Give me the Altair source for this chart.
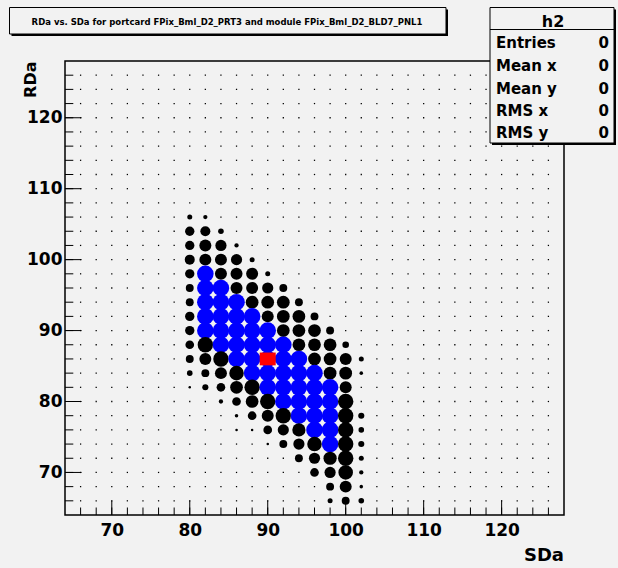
import altair as alt
import pandas as pd

# ---------------- data ----------------
x_cols = [78, 80, 82, 84, 86, 88, 90, 92, 94, 96, 98, 100, 102, 104]
y_rows = [106, 104, 102, 100, 98, 96, 94, 92, 90, 88, 86, 84, 82, 80, 78, 76, 74, 72, 70, 68, 66]
counts = [
    [0, 4, 3, 0, 0, 0, 0, 0, 0, 0, 0, 0, 0, 0],        # 106
    [0, 14, 16, 5, 0, 0, 0, 0, 0, 0, 0, 0, 0, 0],      # 104
    [0, 14, 23, 20, 3, 0, 0, 0, 0, 0, 0, 0, 0, 0],     # 102
    [0, 16, 23, 23, 20, 4, 0, 0, 0, 0, 0, 0, 0, 0],    # 100
    [0, 14, 44, 23, 23, 23, 4, 0, 0, 0, 0, 0, 0, 0],   # 98
    [0, 10, 44, 44, 23, 23, 20, 10, 0, 0, 0, 0, 0, 0], # 96
    [0, 10, 44, 44, 44, 26, 26, 26, 10, 0, 0, 0, 0, 0],   # 94
    [0, 14, 44, 44, 44, 44, 23, 26, 26, 10, 0, 0, 0, 0],  # 92
    [0, 14, 44, 44, 44, 44, 44, 26, 26, 26, 10, 0, 0, 0], # 90
    [0, 12, 38, 44, 44, 44, 44, 44, 26, 26, 26, 7, 0, 0], # 88
    [0, 10, 23, 38, 44, 44, 44, 44, 44, 26, 26, 23, 4, 0],  # 86
    [0, 5, 10, 23, 34, 44, 44, 44, 44, 44, 26, 26, 2, 0],   # 84
    [0, 1, 6, 12, 26, 38, 44, 44, 44, 44, 44, 23, 0, 0],    # 82
    [0, 0, 0, 3, 12, 26, 38, 44, 44, 44, 44, 38, 0, 0],     # 80
    [0, 0, 0, 0, 2, 12, 23, 38, 44, 44, 44, 38, 6, 0],      # 78
    [0, 0, 0, 0, 1, 1, 12, 20, 28, 44, 44, 38, 5, 0],       # 76
    [0, 0, 0, 0, 0, 0, 1, 10, 20, 34, 44, 38, 6, 0],        # 74
    [0, 0, 0, 0, 0, 0, 0, 0, 10, 20, 28, 38, 4, 0],         # 72
    [0, 0, 0, 0, 0, 0, 0, 0, 0, 12, 20, 34, 3, 0],          # 70
    [0, 0, 0, 0, 0, 0, 0, 0, 0, 0, 10, 23, 2, 0],           # 68
    [0, 0, 0, 0, 0, 0, 0, 0, 0, 0, 4, 10, 5, 0],            # 66
]
sel_x = [90]
sel_y = [86]

major_ticks = [70, 80, 90, 100, 110, 120]
minor_ticks = [66, 68, 70, 72, 74, 76, 78, 80, 82, 84, 86, 88, 90, 92, 94, 96,
               98, 100, 102, 104, 106, 108, 110, 112, 114, 116, 118, 120, 122, 124, 126]
grid_ticks = minor_ticks

title_text = "RDa vs. SDa for portcard FPix_Bml_D2_PRT3 and module FPix_Bml_D2_BLD7_PNL1"
stat_header = "h2"
stat_names = ["Entries", "Mean x", "Mean y", "RMS x", "RMS y"]
stat_values = ["0", "0", "0", "0", "0"]

# ---------------- tables ----------------
rows = []
for yi, yv in enumerate(y_rows):
    for xi, xv in enumerate(x_cols):
        n = counts[yi][xi]
        if n > 0:
            rows.append({"SDa": xv, "RDa": yv, "n": n})
df = pd.DataFrame(rows)
grid_df = pd.DataFrame([{"SDa": a, "RDa": b} for a in grid_ticks for b in grid_ticks])
sel_df = pd.DataFrame({"SDa": sel_x, "RDa": sel_y})
minor_df = pd.DataFrame({"t": minor_ticks})
major_df = pd.DataFrame({"t": major_ticks})
one = pd.DataFrame({"k": [0]})

# ---------------- style ----------------
BG = "#f2f2f2"
FONT = "DejaVu Sans"
W, H = 499, 454

xs = alt.Scale(domain=[64, 128], nice=False, zero=False)
ys = alt.Scale(domain=[64, 128], nice=False, zero=False)

x_axis = alt.Axis(values=major_ticks, labelFont=FONT, labelFontWeight="bold", labelFontSize=17,
                  labelColor="black", ticks=False, tickSize=0, domain=False, grid=False, title=None,
                  labelPadding=7.5, labelFlush=False)
y_axis = alt.Axis(values=major_ticks, labelFont=FONT, labelFontWeight="bold", labelFontSize=17,
                  labelColor="black", ticks=False, tickSize=0, domain=False, grid=False, title=None,
                  labelPadding=3, labelFlush=False)

grid = alt.Chart(grid_df).mark_square(size=1.6, color="black", opacity=1).encode(
    x=alt.X("SDa:Q", scale=xs, axis=x_axis),
    y=alt.Y("RDa:Q", scale=ys, axis=y_axis),
)

points = alt.Chart(df).mark_circle(opacity=1).encode(
    x=alt.X("SDa:Q", scale=xs, axis=x_axis),
    y=alt.Y("RDa:Q", scale=ys, axis=y_axis),
    size=alt.Size("n:Q", scale=alt.Scale(domain=[0, 44], range=[0, 275]), legend=None),
    color=alt.condition("datum.n > 40", alt.value("#0000ff"), alt.value("#000000")),
)

sel = alt.Chart(sel_df).mark_point(shape="M-1,-0.8H1V0.8H-1Z", filled=True, color="#ff0000",
                                   size=256, opacity=1).encode(
    x=alt.X("SDa:Q", scale=xs, axis=x_axis),
    y=alt.Y("RDa:Q", scale=ys, axis=y_axis),
)

x_minor = alt.Chart(minor_df).mark_rule(color="black", strokeWidth=1).encode(
    x=alt.X("t:Q", scale=xs, axis=x_axis), y=alt.value(H - 7.5), y2=alt.value(H))
x_major = alt.Chart(major_df).mark_rule(color="black", strokeWidth=1).encode(
    x=alt.X("t:Q", scale=xs, axis=x_axis), y=alt.value(H - 14.5), y2=alt.value(H))
y_minor = alt.Chart(minor_df).mark_rule(color="black", strokeWidth=1).encode(
    y=alt.Y("t:Q", scale=ys, axis=y_axis), x=alt.value(0), x2=alt.value(8.3))
y_major = alt.Chart(major_df).mark_rule(color="black", strokeWidth=1).encode(
    y=alt.Y("t:Q", scale=ys, axis=y_axis), x=alt.value(0), x2=alt.value(16.5))

frame = alt.Chart(one).mark_rect(filled=False, stroke="black", strokeWidth=1.5).encode(
    x=alt.value(0), x2=alt.value(W), y=alt.value(0), y2=alt.value(H))

def box(x1, x2, y1, y2):
    shadow = alt.Chart(one).mark_rect(fill="black").encode(
        x=alt.value(x1 + 2), x2=alt.value(x2 + 2), y=alt.value(y1 + 2), y2=alt.value(y2 + 2))
    face = alt.Chart(one).mark_rect(fill=BG, stroke="black", strokeWidth=1).encode(
        x=alt.value(x1), x2=alt.value(x2), y=alt.value(y1), y2=alt.value(y2))
    return [shadow, face]

title_box = box(-55.5, 381, -53.5, -27)
title_txt = alt.Chart(pd.DataFrame({"s": [title_text]})).mark_text(
    font=FONT, fontWeight="bold", fontSize=8.5, color="black", align="center", baseline="middle").encode(
    text="s:N", x=alt.value(162), y=alt.value(-39.5))

stat_box = box(425, 549, -53.5, 82)
stat_sep = alt.Chart(one).mark_rule(color="black", strokeWidth=1).encode(
    x=alt.value(425), x2=alt.value(549), y=alt.value(-31.5))
stat_head = alt.Chart(pd.DataFrame({"s": [stat_header]})).mark_text(
    font=FONT, fontWeight="bold", fontSize=16, color="black", align="center", baseline="alphabetic").encode(
    text="s:N", x=alt.value(488), y=alt.value(-34))

baselines = [-13, 10, 32.5, 55, 77]
stat_layers = []
for name, val, b in zip(stat_names, stat_values, baselines):
    stat_layers.append(alt.Chart(pd.DataFrame({"s": [name]})).mark_text(
        font=FONT, fontWeight="bold", fontSize=15, color="black", align="left", baseline="alphabetic").encode(
        text="s:N", x=alt.value(431), y=alt.value(b)))
    stat_layers.append(alt.Chart(pd.DataFrame({"s": [val]})).mark_text(
        font=FONT, fontWeight="bold", fontSize=15, color="black", align="right", baseline="alphabetic").encode(
        text="s:N", x=alt.value(544), y=alt.value(b)))

x_title = alt.Chart(pd.DataFrame({"s": ["SDa"]})).mark_text(
    font=FONT, fontWeight="bold", fontSize=18, color="black", align="right", baseline="alphabetic").encode(
    text="s:N", x=alt.value(W), y=alt.value(H + 45.5))
y_title = alt.Chart(pd.DataFrame({"s": ["RDa"]})).mark_text(
    font=FONT, fontWeight="bold", fontSize=16, color="black", align="right", baseline="alphabetic",
    angle=270).encode(
    text="s:N", x=alt.value(-29), y=alt.value(0.5))

layers = ([grid, points, sel, x_minor, x_major, y_minor, y_major, frame]
          + title_box + [title_txt] + stat_box + [stat_sep, stat_head] + stat_layers
          + [x_title, y_title])

chart = alt.layer(*layers).properties(
    width=W, height=H, autosize="none",
    padding={"left": 65, "top": 61, "right": 54, "bottom": 53},
    background=BG,
).configure_view(stroke="transparent")

chart.save("out.html", embed_options={"renderer": "svg", "actions": False})
